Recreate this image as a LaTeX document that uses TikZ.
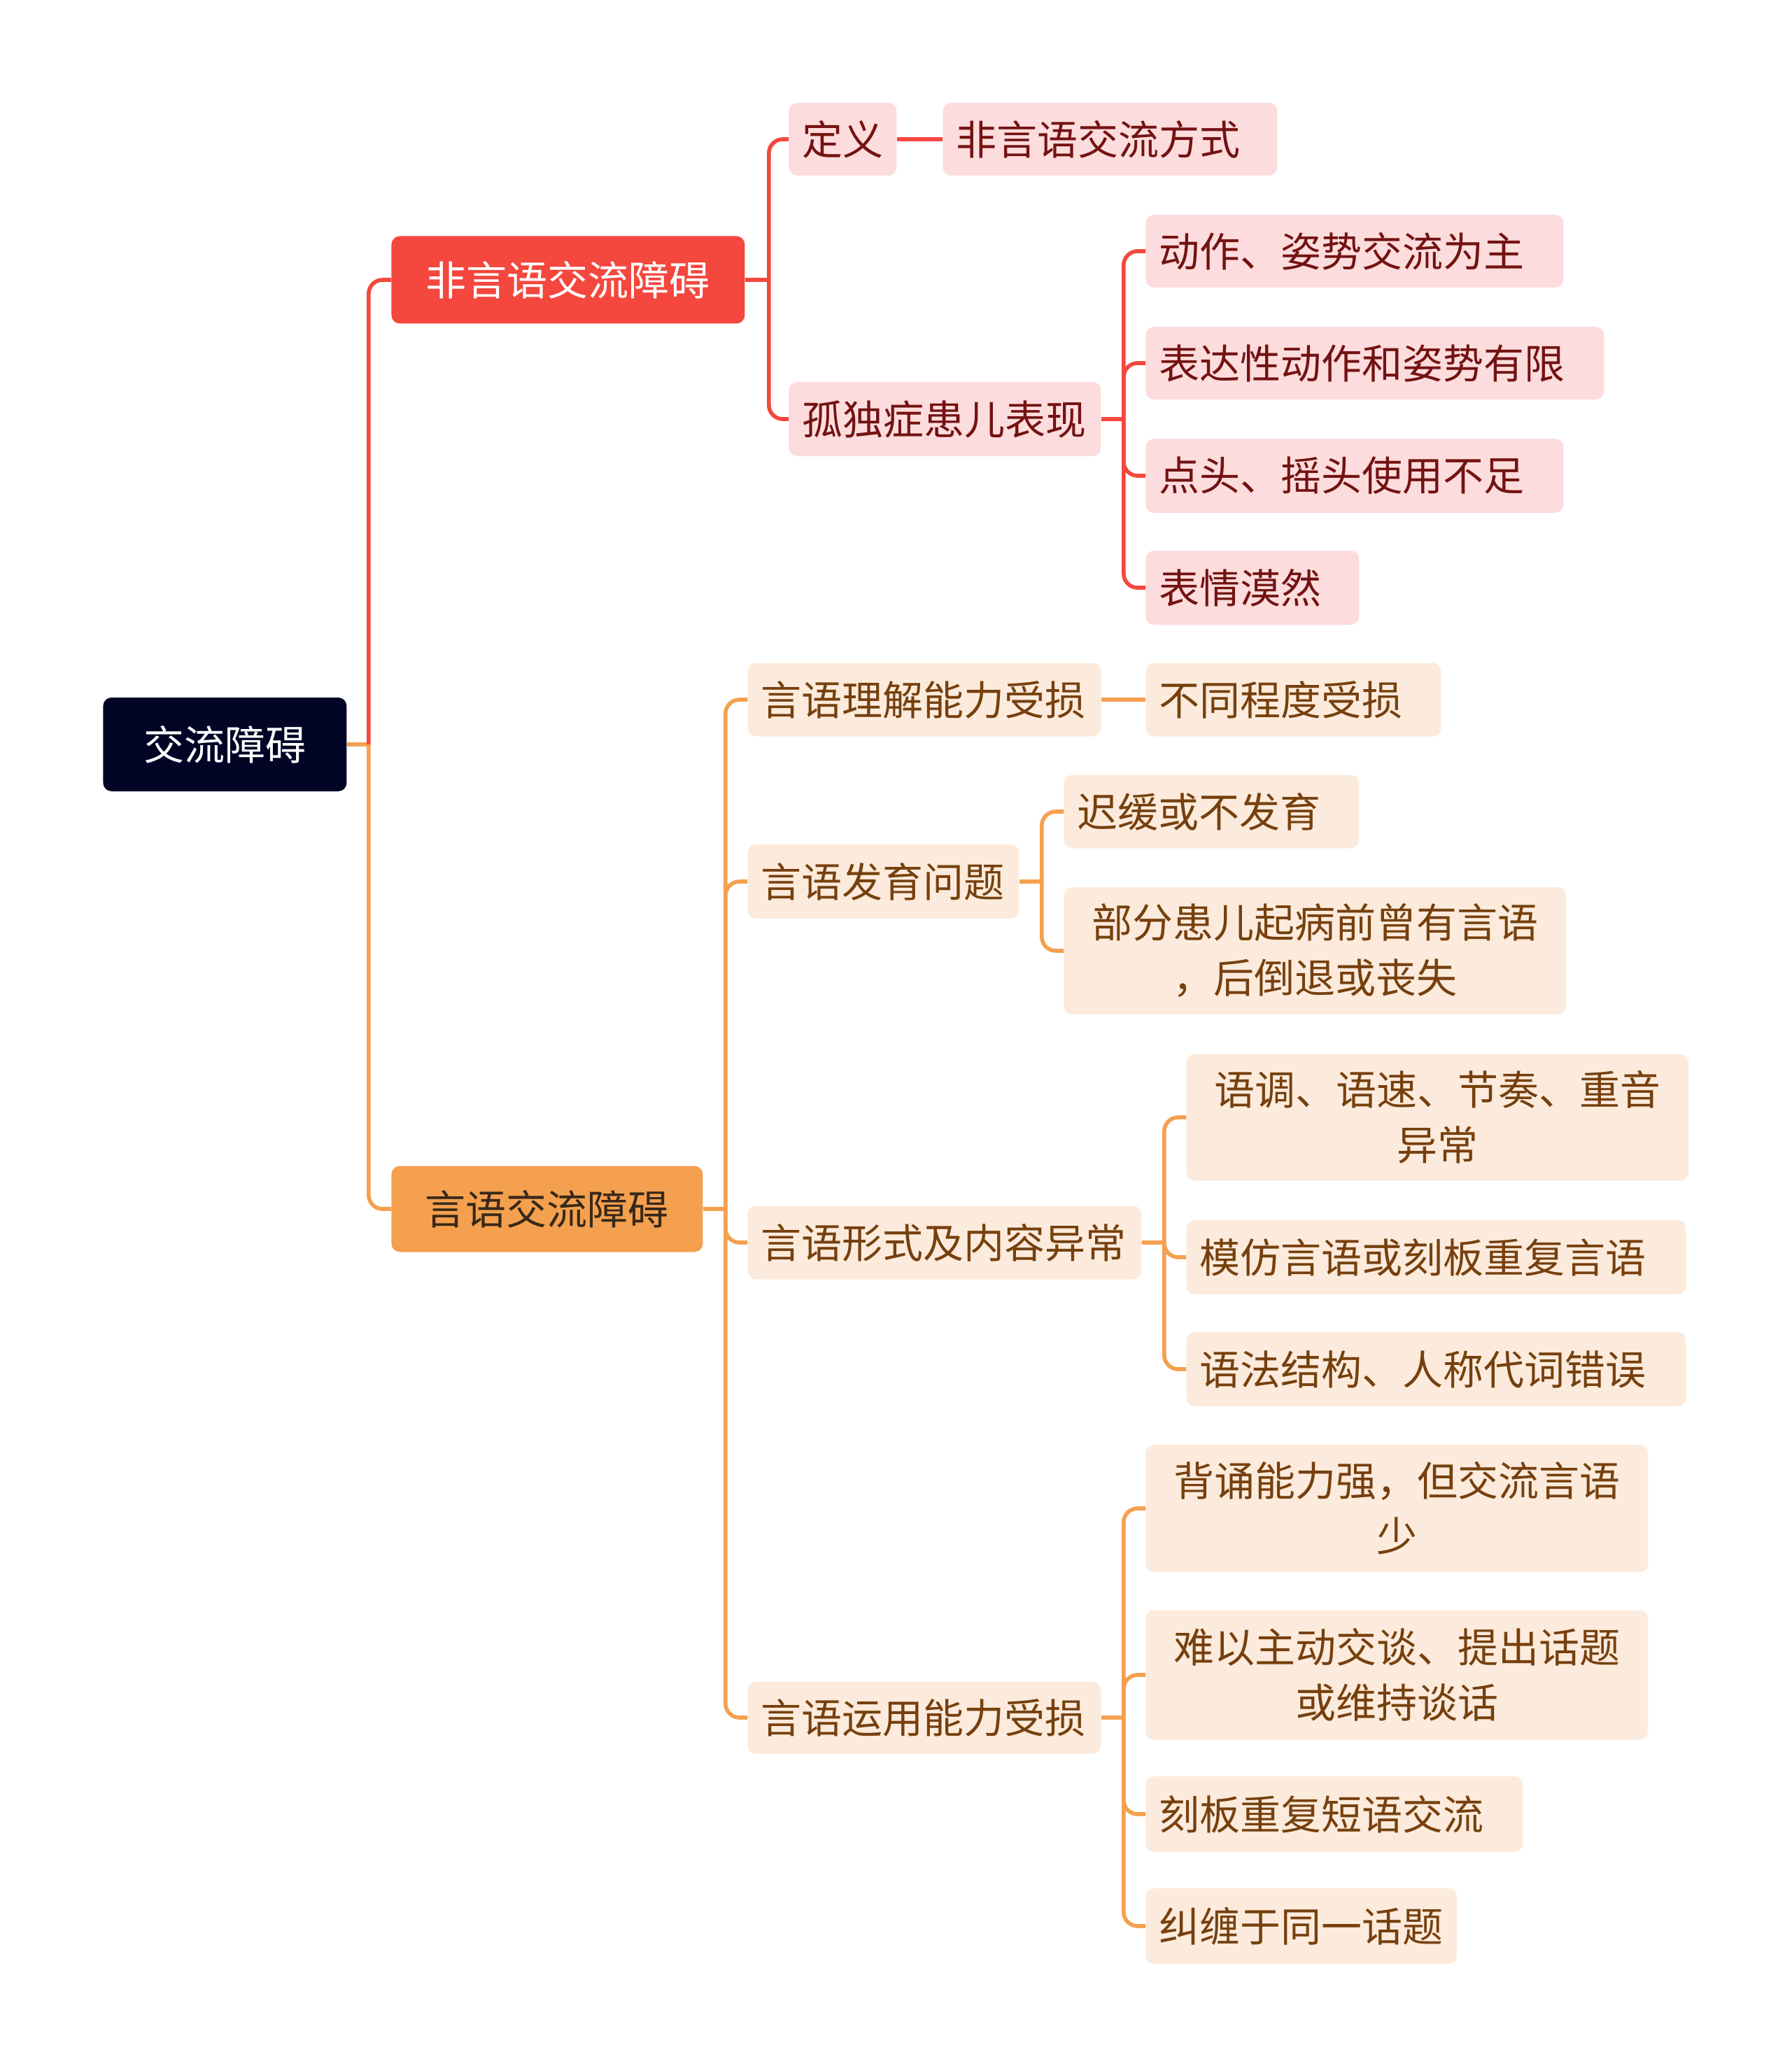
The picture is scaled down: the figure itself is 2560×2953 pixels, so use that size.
\documentclass[tikz,border=0pt]{standalone}
\usepackage{fontspec}
\setmainfont{Noto Sans CJK SC}
\definecolor{rootc}{RGB}{2,4,38}
\definecolor{redc}{RGB}{244,71,62}
\definecolor{redlight}{RGB}{253,220,221}
\definecolor{redtext}{RGB}{115,18,18}
\definecolor{orc}{RGB}{244,160,78}
\definecolor{orlight}{RGB}{252,235,220}
\definecolor{ortext}{RGB}{118,64,14}
\definecolor{ordark}{RGB}{55,40,25}
\begin{document}
\begin{tikzpicture}[x=0.5pt,y=-0.5pt,
  basebox/.style={rounded corners=6pt, inner xsep=9.5pt, inner ysep=0pt, anchor=west,
    font=\fontsize{29pt}{39.5pt}\selectfont},
  topbox/.style={basebox, inner xsep=0pt, align=center},
  rchild/.style={basebox, fill=redlight, text=redtext, align=left},
  ochild/.style={basebox, fill=orlight, text=ortext, align=left},
  ochildc/.style={basebox, fill=orlight, text=ortext, align=center},
  rline/.style={draw=redc, line width=2.8pt, rounded corners=10pt, line join=round},
  oline/.style={draw=orc, line width=2.8pt, rounded corners=10pt, line join=round}]
\useasboundingbox (0,0) rectangle (2560,2953);

% root and first level
\node[topbox, fill=rootc, text=white, minimum width=174pt, minimum height=67pt] (root) at (147,1064) {交流障碍};
\node[topbox, fill=redc, text=white, minimum width=252.5pt, minimum height=62.5pt] (nv) at (559,400) {非言语交流障碍};
\node[topbox, fill=orc, text=ordark, minimum width=222.5pt, minimum height=61.5pt] (v) at (559,1728) {言语交流障碍};

% non-verbal branch
\node[rchild, text width=58pt, minimum height=52pt] (def) at (1127,199) {定义};
\node[rchild, text width=220pt, minimum height=52pt] (defc) at (1347,199) {非言语交流方式};
\node[rchild, text width=204pt, minimum height=53pt] (aut) at (1127,599) {孤独症患儿表现};
\node[rchild, text width=279.5pt, minimum height=52pt] (a1) at (1637,359) {动作、姿势交流为主};
\node[rchild, text width=308.5pt, minimum height=52pt] (a2) at (1637,519) {表达性动作和姿势有限};
\node[rchild, text width=279.5pt, minimum height=53pt] (a3) at (1637,680) {点头、摇头使用不足};
\node[rchild, text width=133.5pt, minimum height=53pt] (a4) at (1637,840) {表情漠然};

% verbal branch
\node[ochild, text width=233.5pt, minimum height=52.5pt] (u) at (1068,1000) {言语理解能力受损};
\node[ochild, text width=192pt, minimum height=52.5pt] (uc) at (1637,1000) {不同程度受损};
\node[ochild, text width=175pt, minimum height=53pt] (d) at (1068,1260) {言语发育问题};
\node[ochild, text width=192pt, minimum height=52.5pt] (d1) at (1520,1160) {迟缓或不发育};
\node[ochildc, text width=340pt, minimum height=91pt] (d2) at (1520,1359) {部分患儿起病前曾有言语\\，后倒退或丧失};
\node[ochild, text width=262.5pt, minimum height=52.5pt] (f) at (1068,1776) {言语形式及内容异常};
\node[ochildc, text width=340pt, minimum height=90.5pt] (f1) at (1695,1597) {语调、语速、节奏、重音\\异常};
\node[ochild, text width=338pt, minimum height=53pt] (f2) at (1695,1797) {模仿言语或刻板重复言语};
\node[ochild, text width=338pt, minimum height=53pt] (f3) at (1695,1957) {语法结构、人称代词错误};
\node[ochild, text width=233.5pt, minimum height=51.5pt] (p) at (1068,2455) {言语运用能力受损};
\node[ochildc, text width=340pt, minimum height=91pt] (p1) at (1637,2156) {背诵能力强，但交流言语\\少};
\node[ochildc, text width=340pt, minimum height=92.5pt] (p2) at (1637,2394) {难以主动交谈、提出话题\\或维持谈话};
\node[ochild, text width=250.5pt, minimum height=54pt] (p3) at (1637,2593) {刻板重复短语交流};
\node[ochild, text width=203.5pt, minimum height=54pt] (p4) at (1637,2753) {纠缠于同一话题};

% junction coordinates
\coordinate (jroot) at ([xshift=15.5pt]root.east);
\coordinate (jnv) at ([xshift=17pt]nv.east);
\coordinate (jaut) at ([xshift=16pt]aut.east);
\coordinate (jv) at ([xshift=16pt]v.east);
\coordinate (jd) at ([xshift=16pt]d.east);
\coordinate (jf) at ([xshift=16pt]f.east);
\coordinate (jp) at ([xshift=16pt]p.east);

% connectors
\draw[oline] (root.east) -- (jroot);
\draw[rline] (jroot) |- (nv.west);
\draw[oline] (jroot) |- (v.west);

\draw[rline] (nv.east) -- (jnv);
\draw[rline] (jnv) |- (def.west);
\draw[rline] (jnv) |- (aut.west);
\draw[rline] (def.east) -- (defc.west);
\draw[rline] (aut.east) -- (jaut);
\foreach \n in {a1,a2,a3,a4} \draw[rline] (jaut) |- (\n.west);

\draw[oline] (v.east) -- (jv);
\foreach \n in {u,d,f,p} \draw[oline] (jv) |- (\n.west);
\draw[oline] (u.east) -- (uc.west);
\draw[oline] (d.east) -- (jd);
\foreach \n in {d1,d2} \draw[oline] (jd) |- (\n.west);
\draw[oline] (f.east) -- (jf);
\foreach \n in {f1,f2,f3} \draw[oline] (jf) |- (\n.west);
\draw[oline] (p.east) -- (jp);
\foreach \n in {p1,p2,p3,p4} \draw[oline] (jp) |- (\n.west);
\end{tikzpicture}
\end{document}
